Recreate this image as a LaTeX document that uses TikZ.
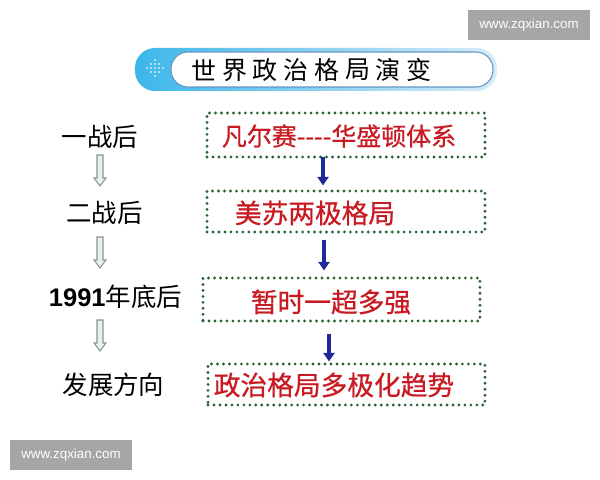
\documentclass[tikz,border=0pt]{standalone}
\usepackage{fontspec}
\setmainfont{Noto Sans CJK SC}
\newfontfamily\latin{Liberation Sans}
\newfontfamily\redfont[FakeBold=0.7]{Noto Sans CJK SC}
\usetikzlibrary{arrows.meta}
\definecolor{boxgreen}{RGB}{40,100,52}
\definecolor{textred}{RGB}{200,26,34}
\definecolor{arrowblue}{RGB}{31,42,154}
\definecolor{bannerblue}{RGB}{61,182,234}
\definecolor{bannerpale}{RGB}{215,236,248}
\definecolor{bannerline}{RGB}{100,150,195}
\definecolor{markgray}{RGB}{166,166,166}
\definecolor{hollowfill}{RGB}{232,242,236}
\definecolor{hollowline}{RGB}{140,150,145}

\tikzset{
  dotbox/.style={draw=boxgreen, line width=1.8pt, dash pattern=on 0pt off 3.4pt, line cap=round, inner sep=0pt},
  redtext/.style={text=textred, font=\redfont\fontsize{15.2}{18}\selectfont, inner sep=0pt},
  eratext/.style={font=\fontsize{14.5}{17}\selectfont, inner sep=0pt},
  titlechar/.style={font=\fontsize{14.2}{17}\selectfont, inner sep=0pt},
  bluearrow/.style={draw=arrowblue, line width=2.8pt, -{Triangle[width=0.22cm,length=0.17cm]}},
  watermark/.style={fill=markgray, text=white, font=\latin\fontsize{7.6}{9}\selectfont, minimum width=2.44cm, minimum height=0.6cm, inner sep=0pt},
  hollow/.pic={\draw[hollowline, fill=hollowfill, line width=0.6pt] (-3,0) -- (3,0) -- (3,23) -- (6,23) -- (0,31) -- (-6,23) -- (-3,23) -- cycle;}
}

\begin{document}
\begin{tikzpicture}[x=0.02cm, y=-0.02cm]
\useasboundingbox (0,0) rectangle (600,480);

\node[watermark] (mark1) at (529,25) {www.zqxian.com};
\node[watermark] (mark2) at (71,455) {www.zqxian.com};

% title banner
\shade[left color=bannerblue, right color=bannerpale, rounded corners=0.4cm] (135,48) rectangle (497,91);
\foreach \dx/\dy in {0/-8,-4/-4,0/-4,4/-4,-8/0,-4/0,0/0,4/0,8/0,-4/4,0/4,4/4,0/8}
  \fill[white, opacity=0.75] (155+\dx,68+\dy) circle (0.6pt);
\draw[bannerline, fill=white, line width=0.6pt, rounded corners=0.34cm] (171,52) rectangle (493,87);
\foreach \c [count=\i] in {世,界,政,治,格,局,演,变}
  \node[titlechar] (title\i) at ({204+30.7*(\i-1)},70) {\c};

% left column
\node[eratext] (era1) at (100,137) {一战后};
\node[eratext] (era2) at (104.5,213) {二战后};
\node[eratext] (era3) at (115.5,297) {{\latin\bfseries 1991}年底后};
\node[eratext] (era4) at (113.5,385) {发展方向};
\foreach \y in {155,237,320}
  \pic at (100,\y) {hollow};

% right column
\node[dotbox, minimum width=5.56cm, minimum height=0.88cm] (box1) at (346,135) {};
\node[dotbox, minimum width=5.56cm, minimum height=0.82cm] (box2) at (346,211.5) {};
\node[dotbox, minimum width=5.54cm, minimum height=0.86cm] (box3) at (341.5,299.5) {};
\node[dotbox, minimum width=5.54cm, minimum height=0.82cm] (box4) at (346.5,384.5) {};

\node[redtext, font=\redfont\fontsize{14.2}{17}\selectfont] (sys1) at (339,136) {凡尔赛-{}-{}-{}-华盛顿体系};
\node[redtext] (sys2) at (315,213) {美苏两极格局};
\node[redtext] (sys3) at (331,302) {暂时一超多强};
\node[redtext] (sys4) at (334,385) {政治格局多极化趋势};

\draw[bluearrow, shorten <=-0.04cm, shorten >=0.08cm] (box1.south -| 323,0) -- (box2.north -| 323,0);
\draw[bluearrow, shorten <=0.12cm, shorten >=0.12cm] (box2.south -| 324,0) -- (box3.north -| 324,0);
\draw[bluearrow, shorten <=0.22cm, shorten >=0.02cm] (box3.south -| 329,0) -- (box4.north -| 329,0);
\end{tikzpicture}
\end{document}
